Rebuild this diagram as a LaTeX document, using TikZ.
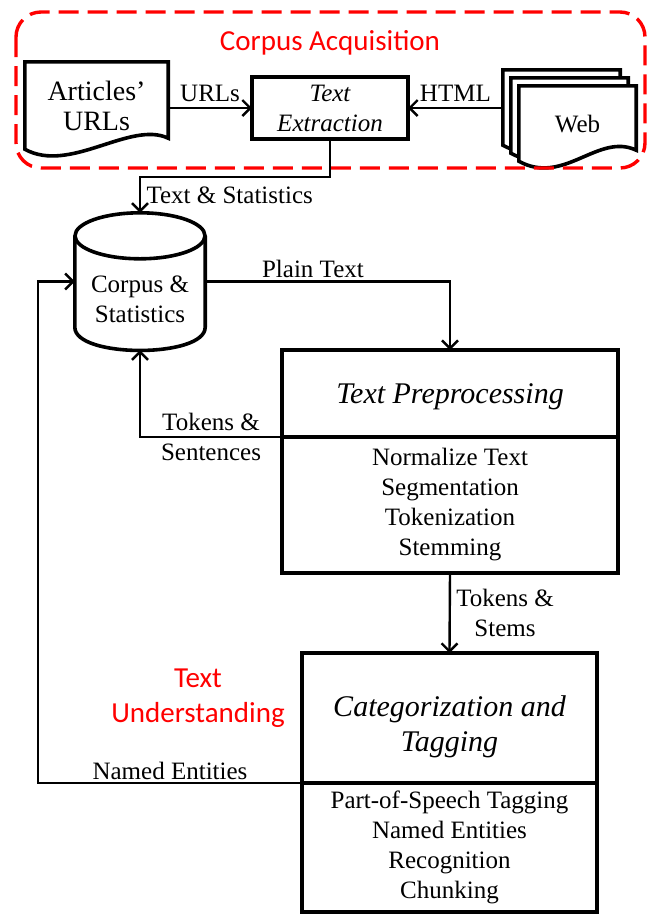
\documentclass[tikz,border=0pt]{standalone}
\usepackage{fontspec}
\setmainfont{Liberation Serif}
\newfontfamily\calibrifont{Carlito}
\usetikzlibrary{positioning, arrows.meta, calc, backgrounds}
\tikzset{
  flow/.style={
	-{Straight Barb[length=8pt,width=16pt]}, % open arrow heads
	line width=2.4pt, % connectors are a bit thinner than the boxes
  },
  box/.style={draw, line width=3.6pt, align=center, inner sep=0pt, outer sep=0pt},
  heading/.style={font=\fontsize{30}{35}\selectfont\itshape},
  stage/.style={red, font=\calibrifont\fontsize{29}{35}\selectfont, align=center},
  page/.style={minimum width=117pt, minimum height=76pt, inner sep=0pt, align=center},
}
% sheet of paper with a wavy lower edge, drawn round a node
\newcommand\drawpage[1]{
  \filldraw[fill=white, line width=3.6pt]
	(#1.north west) -- (#1.north east) -- ($(#1.south east)+(0,-12)$)
	.. controls ($(#1.south east)+(-38,-30)$) and ($(#1.south west)+(45,24)$)
	.. ($(#1.south west)+(0,-1)$) -- cycle;
}
% database drum drawn round a node, caps 23 high
\newcommand\drawdrum[1]{
  \draw[line width=3.6pt]
	($(#1.north west)+(0,23)$) -- ($(#1.south west)+(0,-23)$)
	.. controls ($(#1.south west)+(0,8)$) and ($(#1.south east)+(0,8)$)
	.. ($(#1.south east)+(0,-23)$) -- ($(#1.north east)+(0,23)$);
  \draw[line width=3.6pt] ($(#1.north)+(0,23)$) ellipse [x radius=65pt, y radius=23pt];
}

\begin{document}
\begin{tikzpicture}[x=1pt, y=-1pt, every node/.style={font=\fontsize{25}{30}\selectfont}]
	  \useasboundingbox (0,0) rectangle (649,914);

	  % corpus acquisition
	  \draw[red, line width=3.4pt, rounded corners=25pt, dash pattern=on 20pt off 9pt] (16,12) rectangle (645,168);
	  \node[stage] (acqLabel) at (330,43) {Corpus Acquisition};
	  \node[page, minimum width=143pt, minimum height=88pt, font=\fontsize{28}{30}\selectfont] (articles) at (96.5,106) {Articles'\\URLs};
	  \node[box, minimum width=156pt, minimum height=62pt, font=\fontsize{25}{30}\selectfont\itshape] (extract) at (330,108) {Text\\Extraction};
	  \node[page] (webA) at (561.5,108) {};
	  \node[page] (webB) at (569.5,116) {};
	  \node[page] (web) at (577.5,124) {Web};
	  \begin{pgfonlayer}{background}
		\drawpage{webA}
		\drawpage{webB}
		\drawpage{web}
		\drawpage{articles}
	  \end{pgfonlayer}

	  % corpus and the processing stages
	  \node[minimum width=130pt, minimum height=137pt, inner sep=0pt] (corpus) at (140,281.5) {};
	  \drawdrum{corpus}
	  \node[align=center] (corpusText) at ($(corpus)+(0,18)$) {Corpus \&\\Statistics};
	  \node[box, heading, minimum width=336pt, minimum height=87pt] (prepTitle) at (450,393.5) {\rule{0pt}{27pt}Text Preprocessing};
	  \node[box, below=0pt of prepTitle, minimum width=336pt, minimum height=136pt] (prepList) {Normalize Text\\Segmentation\\Tokenization\\Stemming};
	  \node[box, heading, minimum width=295pt, minimum height=130pt] (catTitle) at (449.5,718) {\rule{0pt}{38pt}Categorization and\\Tagging};
	  \node[box, below=0pt of catTitle, minimum width=295pt, minimum height=129pt] (catList) {Part-of-Speech Tagging\\Named Entities\\Recognition\\Chunking};
	  \node[stage] (tuLabel) at (198,698) {Text\\Understanding};

	  \draw[flow] (articles.east |- extract.west) -- node[above=2pt]{URLs} (extract.west);
	  \draw[flow] (webA.west) -- node[above=2pt]{HTML} (extract.east);
	  \draw[flow] (extract.south) -- ++(0,38) -| node[pos=0.75, right=2pt]{Text \& Statistics} (corpus.north);
	  \draw[flow] (corpus.east) -| node[pos=0.22, above=-1pt]{Plain Text} (prepTitle.north);
	  \draw[flow] (prepTitle.south west) -| node[pos=0.25, align=center]{Tokens \&\\Sentences} (corpus.south);
	  \draw[flow] (prepList.south) -- node[right=2pt, align=center]{Tokens \&\\Stems} (catTitle.north);
	  \draw[flow] (catTitle.south west) -- node[above=-1pt]{Named Entities} ++(-264,0) |- (corpus.west);
\end{tikzpicture}
\end{document}
